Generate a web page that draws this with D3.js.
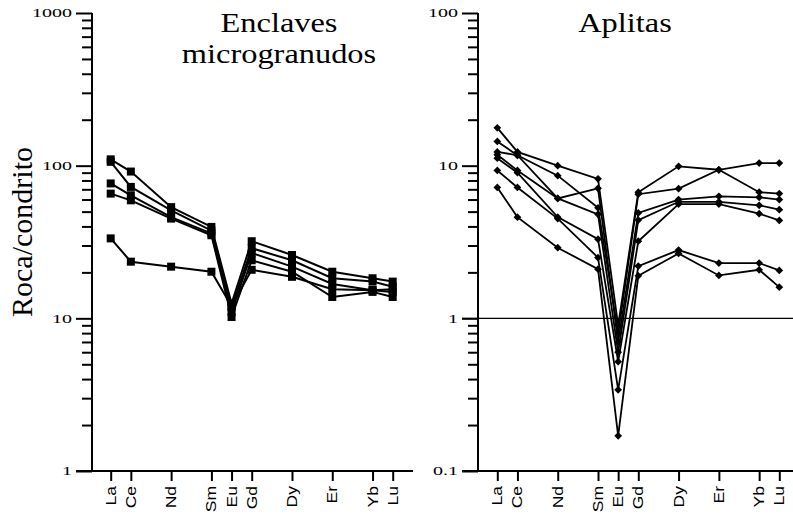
<!DOCTYPE html>
<html>
<head>
<meta charset="utf-8">
<script src="https://cdn.jsdelivr.net/npm/d3@7"></script>
<style>
  body { margin: 0; background: #fff; }
  svg { display: block; }
  .serif { font-family: "Liberation Serif", "Times New Roman", serif; }
  .sans { font-family: "Liberation Sans", Arial, sans-serif; }
</style>
</head>
<body>
<svg id="chart" width="793" height="515"></svg>
<script>
// elementos (tierras raras) y su numero atomico para la posicion en x
const elementos = ["La", "Ce", "Nd", "Sm", "Eu", "Gd", "Dy", "Er", "Yb", "Lu"];
const numAtomico = [57, 58, 60, 62, 63, 64, 66, 68, 70, 71];

// Enclaves microgranudos (roca/condrito)
const enclave1 = [110, 91.5, 53.5, 39.7, 12.5, 32, 26, 20.2, 18.3, 17.4];
const enclave2 = [106, 72.6, 51, 37.5, 11.8, 28.8, 24, 18.3, 17.4, 16.1];
const enclave3 = [76.5, 64, 46, 36, 11, 26.8, 21.8, 16.8, 15.3, 14.9];
const enclave4 = [65.6, 59.3, 45, 35, 10.2, 24, 20.2, 13.8, 14.9, 13.8];
const enclave5 = [33.4, 23.5, 21.8, 20.2, 12, 20.8, 18.7, 15.5, 15.3, 15.5];

// Aplitas (roca/condrito)
const aplita1 = [17.7, 12.3, 10.0, 8.2, 0.9, 6.7, 9.9, 9.4, 10.4, 10.4];
const aplita2 = [14.4, 11.7, 8.6, 5.3, 0.8, 6.5, 7.07, 9.4, 6.7, 6.56];
const aplita3 = [12.3, 11.7, 6.1, 7.1, 0.7, 4.9, 6.0, 6.3, 6.2, 6.0];
const aplita4 = [11.8, 9.3, 6.1, 4.8, 0.6, 4.4, 5.8, 5.8, 5.5, 5.15];
const aplita5 = [11.2, 9.0, 4.6, 3.3, 0.52, 3.2, 5.6, 5.6, 4.85, 4.38];
const aplita6 = [9.3, 7.2, 4.5, 2.5, 0.34, 2.2, 2.8, 2.3, 2.3, 2.06];
const aplita7 = [7.2, 4.6, 2.9, 2.1, 0.17, 1.9, 2.66, 1.91, 2.08, 1.60];

const ticksIzq = [1, 10, 100, 1000];
const ticksDer = [0.1, 1, 10, 100];

const svg = d3.select("#chart");
const yTop = 13, yBottom = 471;

function minorTicks(dom) {
    const out = [];
    for (let d = dom[0]; d < dom[1]; d *= 10) {
        for (let k = 2; k <= 9; k++) out.push(d * k);
    }
    return out;
}

// dibuja un panel completo
function panel(cfg) {
    const x = d3.scaleLinear().domain([57, 71]).range([cfg.x0, cfg.x0 + 282]);
    const y = d3.scaleLog().domain(cfg.dom).range([yBottom, yTop]);
    const g = svg.append("g");

    // eje y: ticks menores y mayores
    g.append("g")
        .attr("transform", `translate(${cfg.ax},0)`)
        .call(d3.axisLeft(y).tickValues(minorTicks(cfg.dom)).tickSize(10).tickSizeOuter(0).tickFormat(""))
        .call(s => s.select(".domain").remove())
        .call(s => s.selectAll("line").attr("stroke-width", 2));

    g.append("g")
        .attr("transform", `translate(${cfg.ax},0)`)
        .call(d3.axisLeft(y).tickValues(cfg.ticks).tickSize(16).tickSizeOuter(0).tickFormat(""))
        .call(s => s.select(".domain").attr("stroke-width", 2).attr("d", `M0,${yTop}V${yBottom}`))
        .call(s => s.selectAll("line").attr("stroke-width", 2));

    g.selectAll(".ylab")
        .data(cfg.ticks)
        .join("text")
        .attr("class", "serif")
        .attr("transform", d => `translate(${cfg.ax - 20},${y(d)}) scale(1.6,1)`)
        .attr("dy", "0.35em")
        .attr("text-anchor", "end")
        .attr("font-size", 12.5)
        .text(d => d);

    // eje x
    g.append("line")
        .attr("x1", cfg.ax - 16).attr("x2", cfg.xEnd)
        .attr("y1", yBottom).attr("y2", yBottom)
        .attr("stroke", "#000").attr("stroke-width", 2);

    g.append("g")
        .attr("transform", `translate(0,${yBottom})`)
        .call(d3.axisBottom(x).tickValues(numAtomico).tickSize(10).tickSizeOuter(0).tickFormat(""))
        .call(s => s.select(".domain").remove())
        .call(s => s.selectAll("line").attr("stroke-width", 2));

    g.selectAll(".xlab")
        .data(elementos)
        .join("text")
        .attr("class", "sans")
        .attr("transform", (d, i) => `translate(${x(numAtomico[i])},486) rotate(-90) scale(1.25,1)`)
        .attr("dy", "0.36em")
        .attr("text-anchor", "end")
        .attr("font-size", 14)
        .text(d => d);

    if (cfg.refLine) {
        g.append("line")
            .attr("x1", cfg.ax - 16).attr("x2", cfg.xEnd)
            .attr("y1", y(cfg.refLine)).attr("y2", y(cfg.refLine))
            .attr("stroke", "#000").attr("stroke-width", 1.4);
    }

    const line = d3.line()
        .x((d, i) => x(numAtomico[i]))
        .y(d => y(d));

    cfg.series.forEach(s => {
        g.append("path")
            .attr("d", line(s))
            .attr("fill", "none")
            .attr("stroke", "#000")
            .attr("stroke-width", cfg.lw);

        if (cfg.marker === "square") {
            g.selectAll(null)
                .data(s)
                .join("rect")
                .attr("x", (d, i) => x(numAtomico[i]) - 4)
                .attr("y", d => y(d) - 4)
                .attr("width", 8).attr("height", 8)
                .attr("fill", "#000");
        } else {
            g.selectAll(null)
                .data(s)
                .join("path")
                .attr("d", d3.symbol(d3.symbolSquare).size(30))
                .attr("transform", (d, i) => `translate(${x(numAtomico[i])},${y(d)}) rotate(45)`)
                .attr("fill", "#000");
        }
    });

    cfg.title.forEach((t, i) => {
        g.append("text")
            .attr("class", "serif")
            .attr("transform", `translate(${cfg.tx},${32 + i * 31}) scale(1.2,1)`)
            .attr("text-anchor", "middle")
            .attr("font-size", 27)
            .text(t);
    });
}

panel({
    x0: 110.7, ax: 92, xEnd: 413, dom: [1, 1000], ticks: ticksIzq,
    series: [enclave1, enclave2, enclave3, enclave4, enclave5],
    marker: "square", lw: 2,
    title: ["Enclaves", "microgranudos"], tx: 279
});

panel({
    x0: 497.3, ax: 478, xEnd: 793, dom: [0.1, 100], ticks: ticksDer,
    series: [aplita1, aplita2, aplita3, aplita4, aplita5, aplita6, aplita7],
    marker: "diamond", lw: 1.8, refLine: 1,
    title: ["Aplitas"], tx: 625
});

// etiqueta del eje y
svg.append("text")
    .attr("class", "serif")
    .attr("transform", "translate(32,232) rotate(-90)")
    .attr("text-anchor", "middle")
    .attr("font-size", 30)
    .text("Roca/condrito");
</script>
</body>
</html>
